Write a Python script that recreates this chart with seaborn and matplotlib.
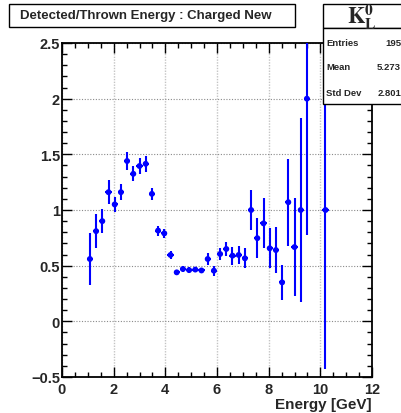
import matplotlib
matplotlib.use("Agg")
import matplotlib.pyplot as plt
from matplotlib.ticker import MultipleLocator, FuncFormatter
from matplotlib.patches import Rectangle
import seaborn as sns
import pandas as pd

# Detected/thrown energy ratio per energy bin (bin width 0.24 GeV)
energy = [1.08, 1.32, 1.56, 1.80, 2.04, 2.28, 2.52, 2.76, 3.00, 3.24,
          3.48, 3.72, 3.96, 4.20, 4.44, 4.68, 4.92, 5.16, 5.40, 5.64,
          5.88, 6.12, 6.36, 6.60, 6.84, 7.08, 7.32, 7.56, 7.80, 8.04,
          8.28, 8.52, 8.76, 9.00, 9.24, 9.48, 10.20]
ratio = [0.56, 0.81, 0.90, 1.16, 1.05, 1.16, 1.44, 1.325, 1.395, 1.415,
         1.145, 0.815, 0.79, 0.596, 0.44, 0.47, 0.46, 0.465, 0.457, 0.56,
         0.455, 0.605, 0.65, 0.59, 0.596, 0.566, 1.0, 0.747, 0.88, 0.656,
         0.64, 0.35, 1.07, 0.667, 1.0, 2.0, 1.0]
ratio_err = [0.235, 0.15, 0.105, 0.105, 0.07, 0.07, 0.08, 0.068, 0.072, 0.07,
             0.057, 0.045, 0.04, 0.035, 0.02, 0.025, 0.025, 0.025, 0.025, 0.05,
             0.045, 0.055, 0.065, 0.08, 0.085, 0.09, 0.176, 0.177, 0.225, 0.18,
             0.21, 0.16, 0.39, 0.437, 0.825, 1.222, 1.43]
half_bin = 0.12

title = "Detected/Thrown Energy : Charged New"
hist_name = r"$\mathrm{K}^{0}_{\mathrm{L}}$"
stat_names = ["Entries", "Mean", "Std Dev"]
stat_values = ["195", "5.273", "2.801"]
x_label = "Energy [GeV]"

df = pd.DataFrame({"energy": energy, "ratio": ratio, "err": ratio_err})

sns.set_theme(style="ticks")
plt.rcParams["font.family"] = ["Liberation Sans", "DejaVu Sans"]
plt.rcParams["font.weight"] = "bold"
plt.rcParams["mathtext.fontset"] = "stix"

W, H = 401, 414
fig = plt.figure(figsize=(W / 100, H / 100), dpi=100)
fig.patch.set_facecolor("white")
ax = fig.add_axes([62 / W, 1 - 378 / H, 310 / W, 334 / H])
ax.set_facecolor("white")

blue = "#0000ff"
ax.errorbar(df["energy"], df["ratio"], yerr=df["err"], xerr=half_bin,
            fmt="none", ecolor=blue, elinewidth=1.5, capsize=0, zorder=3)
sns.scatterplot(data=df, x="energy", y="ratio", ax=ax, color=blue,
                marker="o", s=18, edgecolor="none", zorder=4, legend=False)

ax.set_xlim(0, 12)
ax.set_ylim(-0.5, 2.5)
ax.xaxis.set_major_locator(MultipleLocator(2))
ax.xaxis.set_minor_locator(MultipleLocator(0.5))
ax.yaxis.set_major_locator(MultipleLocator(0.5))
ax.yaxis.set_minor_locator(MultipleLocator(0.1))
fmt = FuncFormatter(lambda v, p: f"{v:g}".replace("-", "\u2212"))
ax.xaxis.set_major_formatter(fmt)
ax.yaxis.set_major_formatter(fmt)

ax.tick_params(which="both", direction="in", top=True, right=True,
               color="black", width=1.0)
ax.tick_params(which="major", length=7.5, labelsize=10.5)
ax.tick_params(which="minor", length=3.6)
ax.tick_params(axis="x", which="major", pad=3.5)
ax.tick_params(axis="y", which="major", pad=1.5)
for lab in ax.get_xticklabels() + ax.get_yticklabels():
    lab.set_fontweight("bold")

for s in ax.spines.values():
    s.set_linewidth(1.3)
    s.set_color("black")

ax.grid(False)
ax.xaxis.grid(True, which="major", color="#c4c4c4", linestyle=(0, (1, 1)),
              linewidth=1.0)
ax.yaxis.grid(True, which="major", color="#8a8a8a", linestyle=(0, (1, 1.5)),
              linewidth=0.8)
ax.set_axisbelow(True)

ax.set_xlabel("")
ax.set_ylabel("")
fig.text(372 / W, 1 - 405 / H, x_label, ha="right", va="center",
         fontsize=11, fontweight="bold")

# Title pave
fig.patches.append(Rectangle((9 / W, 1 - 28 / H), 286 / W, 23 / H,
                             transform=fig.transFigure, facecolor="white",
                             edgecolor="black", linewidth=1.0, zorder=10))
fig.text(20 / W, 1 - 16.5 / H, title, ha="left", va="center",
         fontsize=9.5, fontweight="bold", zorder=11)

# Histogram name and statistics boxes
fig.patches.append(Rectangle((323 / W, 1 - 29 / H), 90 / W, 24 / H,
                             transform=fig.transFigure, facecolor="white",
                             edgecolor="black", linewidth=1.0, zorder=10))
fig.text(362 / W, 1 - 17 / H, hist_name, ha="center", va="center",
         fontsize=16, zorder=11)
fig.patches.append(Rectangle((323 / W, 1 - 105 / H), 90 / W, 76 / H,
                             transform=fig.transFigure, facecolor="white",
                             edgecolor="black", linewidth=1.0, zorder=10))
for i, (n, v) in enumerate(zip(stat_names, stat_values)):
    y = 1 - (43 + 25 * i) / H
    fig.text(326 / W, y, n, ha="left", va="center", fontsize=6.8,
             fontweight="bold", zorder=11)
    fig.text(401 / W, y, v, ha="right", va="center", fontsize=6.8,
             fontweight="bold", zorder=11)

fig.savefig("out.png", dpi=100, facecolor="white")
